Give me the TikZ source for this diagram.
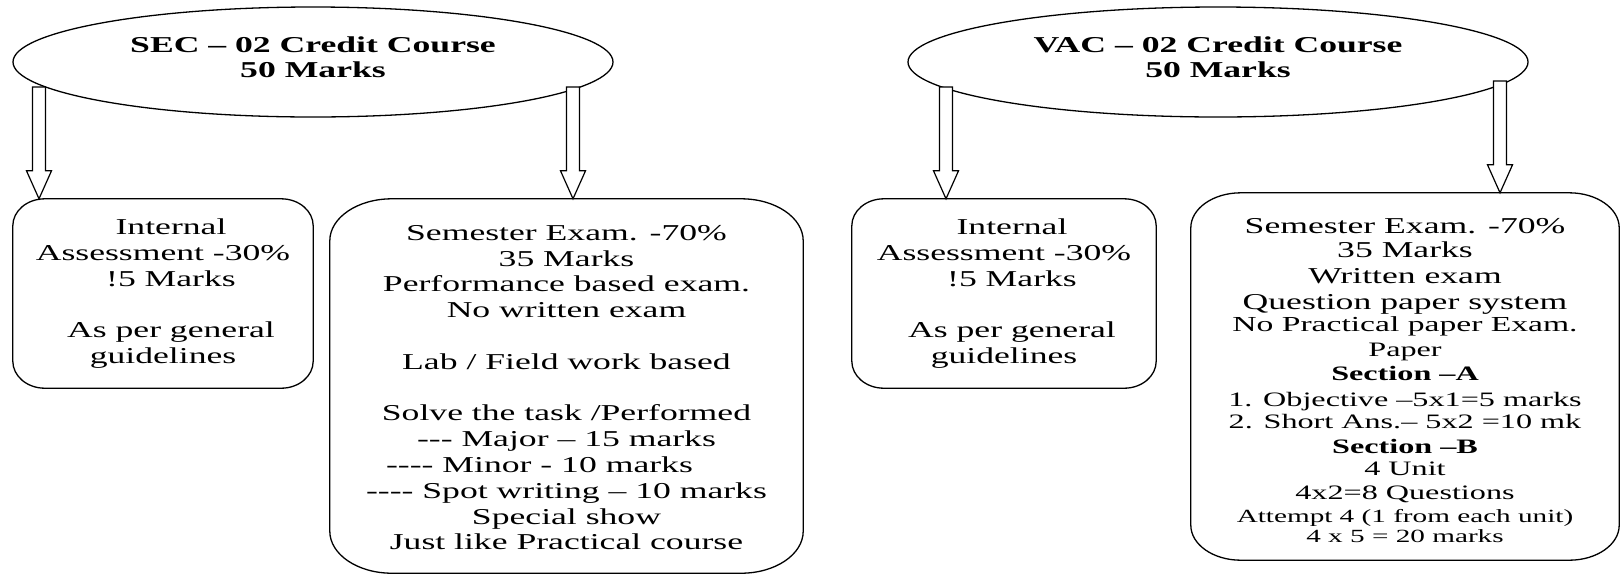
\documentclass[tikz,border=0pt]{standalone}
\usepackage{fontspec}
\setmainfont[FakeStretch=1.57]{Liberation Serif}
\usetikzlibrary{shapes.geometric,calc}

\newcommand\mytop[1]{\rule{0pt}{#1pt}}
\newcommand\mybot[1]{\rule[-#1pt]{0pt}{#1pt}}
\newcommand\gap[1]{\hbox to #1pt{}}
\newcommand\szA{\fontsize{21.4}{24}\selectfont}
\newcommand\szB{\fontsize{20.5}{24}\selectfont}
\newcommand\szC{\fontsize{18.6}{24}\selectfont}

% rounded outline with elliptical corners around a node: name, rx, ry
\newcommand\rbox[3]{%
  \draw[boxline] let \p1=(#1.south west), \p2=(#1.north east) in
    (\x1+#2pt,\y2) -- (\x2-#2pt,\y2)
    arc[start angle=90,end angle=0,x radius=#2pt,y radius=#3pt]
    -- (\x2,\y1+#3pt)
    arc[start angle=0,end angle=-90,x radius=#2pt,y radius=#3pt]
    -- (\x1+#2pt,\y1)
    arc[start angle=-90,end angle=-180,x radius=#2pt,y radius=#3pt]
    -- (\x1,\y2-#3pt)
    arc[start angle=180,end angle=90,x radius=#2pt,y radius=#3pt]
    -- cycle;}

% hollow block arrow: start coordinate, tip coordinate
\newcommand\blkarrow[2]{%
  \draw[arrline] let \p1=(#1), \p2=(#2) in
    (\x2-6.5pt,\y1) -- (\x2-6.5pt,\y2+28pt) -- (\x2-12.5pt,\y2+28pt)
    -- (\x2,\y2) -- (\x2+12.5pt,\y2+28pt) -- (\x2+6.5pt,\y2+28pt)
    -- (\x2+6.5pt,\y1) -- cycle;}

\tikzset{
  titleoval/.style={draw, ellipse, line width=1.3pt, inner sep=0pt,
    minimum height=110pt, align=center,
    font={\fontsize{22.7}{25}\selectfont\bfseries}},
  boxtext/.style={rectangle, inner sep=0pt, align=center,
    font={\fontsize{22.7}{25.8}\selectfont}},
  boxline/.style={line width=1.3pt, black},
  arrline/.style={line width=1.2pt, black, fill=white, line join=miter}
}

\begin{document}
\begin{tikzpicture}[x=1pt,y=-1pt]
\useasboundingbox (0,0) rectangle (1621,574);

% title ellipses
\node[titleoval, minimum width=600pt] (sec) at (313,62)
  {\mytop{19}SEC – 02 Credit Course\\50 Marks\mybot{14}};
\node[titleoval, minimum width=620pt] (vac) at (1218,62)
  {\mytop{19}VAC – 02 Credit Course\\50 Marks\mybot{14}};

% boxes
\node[boxtext, minimum width=300pt, minimum height=189pt] (b1) at (163,293.5)
  {\mytop{19}\gap{16}Internal\\Assessment -30\%\\\gap{16}!5 Marks\\[25.8pt]\gap{16}As per general\\guidelines\mybot{8}};
\rbox{b1}{32}{27}

\node[boxtext, minimum width=473pt, minimum height=374pt] (b2) at (566.5,386)
  {\mytop{24}Semester Exam. -70\%\\35 Marks\\Performance based exam.\\No written exam\\[25.8pt]Lab / Field work based\\[25.8pt]Solve the task /Performed\\-{}-{}- Major – 15 marks\\-{}-{}-{}- Minor - 10 marks\gap{54}\\-{}-{}-{}- Spot writing – 10 marks\\Special show\\Just like Practical course\mybot{6}};
\rbox{b2}{62}{42}

\node[boxtext, minimum width=304pt, minimum height=189pt] (b3) at (1004,293.5)
  {\mytop{19}\gap{16}Internal\\Assessment -30\%\\\gap{16}!5 Marks\\[25.8pt]\gap{16}As per general\\guidelines\mybot{8}};
\rbox{b3}{32}{27}

\node[boxtext, font={\fontsize{22.7}{24}\selectfont}, minimum width=428pt, minimum height=367pt] (b4) at (1405,376.5)
  {\mytop{28}Semester Exam. -70\%\\
   35 Marks\\[2pt]
   Written exam\\[2pt]
   Question paper system\\[-2pt]
   {\szA No Practical paper Exam.}\\[1pt]
   {\szB Paper}\\
   {\szB\bfseries Section –A}\\[2pt]
   {\szB 1. Objective –5x1=5 marks}\\[-2pt]
   {\szB 2. Short Ans.– 5x2 =10 mk}\\[1pt]
   {\szB\bfseries Section –B}\\[-2pt]
   {\szB 4 Unit}\\
   {\szB 4x2=8 Questions}\\[-1pt]
   {\szC Attempt 4 (1 from each unit)}\\[-4pt]
   {\szC 4 x 5 = 20 marks}\mybot{6}};
\rbox{b4}{50}{35}

% arrow start points on the ellipses
\coordinate (sa1) at (39,87);
\coordinate (sa2) at (573,87);
\coordinate (va1) at (946,87);
\coordinate (va2) at (1500,81);

\blkarrow{sa1}{sa1 |- b1.north}
\blkarrow{sa2}{sa2 |- b2.north}
\blkarrow{va1}{va1 |- b3.north}
\blkarrow{va2}{va2 |- b4.north}
\end{tikzpicture}
\end{document}
